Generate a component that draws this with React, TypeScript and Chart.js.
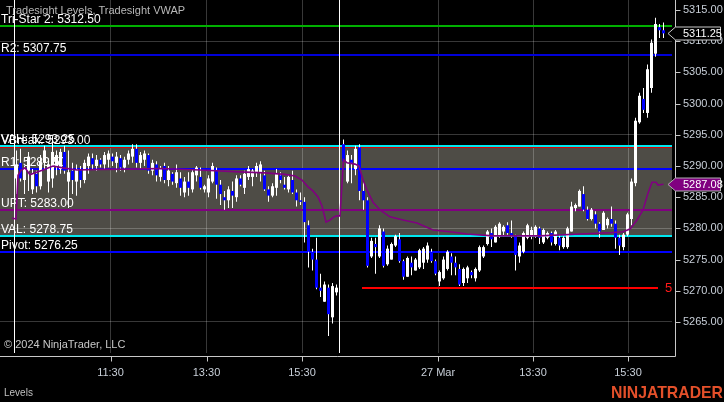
import React, { useEffect, useRef } from 'react';
import { Chart, registerables } from 'chart.js';
Chart.register(...registerables);

// ---- axes ----
const Y_MIN = 5260.03;
const Y_MAX = 5316.6;
const X_MIN = -3.5;
const X_MAX = 164.5;
const PRICE_TICKS = [5265, 5270, 5275, 5280, 5285, 5290, 5295, 5300, 5305, 5310, 5315];
const GRID_PRICES = [5265, 5280, 5295, 5310];
const TIME_TICK_SLOTS = [24.125, 48.125, 72, 106, 129.75, 153.5];
const TIME_TICK_LABELS = ['11:30', '13:30', '15:30', '27 Mar', '13:30', '15:30'];
const SESSION_BREAKS = [0, 81.25];
const SESSION1_START = 0.625;
const SESSION2_START = 82.375;

// ---- session 1 (26 Mar) 5-min bars ----
const S1_OPEN = [5288, 5290.5, 5287.75, 5289.25, 5286.25, 5288.75, 5286.75, 5290.5, 5287.5, 5288, 5290, 5289.5, 5292.25, 5287.5, 5289.25, 5287.5, 5289.5, 5287.75, 5290, 5291.25, 5290, 5291, 5290.25, 5291, 5291.5, 5290.5, 5291.25, 5289.75, 5291, 5291.5, 5292.75, 5290.5, 5291, 5291.75, 5289.25, 5290.25, 5288.25, 5290, 5287.75, 5288.75, 5287.25, 5288, 5285.75, 5287.5, 5286.25, 5288.5, 5288.25, 5286.25, 5285.75, 5287.5, 5289.25, 5287, 5285, 5284.5, 5286, 5285, 5288, 5286.5, 5288.25, 5288.25, 5289, 5289, 5288.5, 5286.25, 5285.25, 5286.5, 5288.5, 5287, 5286.25, 5287.75, 5285.75, 5284.5, 5284.25, 5280.5, 5276.25, 5275, 5270.5, 5268.25, 5270.5, 5265.75, 5269.75];
const S1_HIGH = [5292.5, 5292.75, 5290, 5292.25, 5289.5, 5289.25, 5291.75, 5293.25, 5291.25, 5294.75, 5292.5, 5292.75, 5293.25, 5292.5, 5290.5, 5290.25, 5290, 5291, 5292, 5292, 5291.75, 5291.25, 5292.25, 5292.5, 5292, 5292.25, 5291.75, 5291.5, 5292.5, 5293.5, 5293.5, 5292.25, 5292.5, 5292, 5291, 5290.75, 5290, 5290.5, 5290, 5289, 5290.25, 5289, 5288.25, 5289, 5289.5, 5290, 5289.75, 5287, 5288.5, 5290.5, 5289.75, 5287.75, 5286, 5286.75, 5287.5, 5288.5, 5288.5, 5289.25, 5290, 5289.5, 5290.5, 5290.75, 5289.25, 5286.75, 5287.25, 5289.5, 5289, 5288.25, 5288.5, 5289.25, 5286.25, 5285.75, 5285, 5281.25, 5276.75, 5278.5, 5272.75, 5271.5, 5271, 5271.25, 5271];
const S1_LOW = [5285.5, 5287.5, 5285.5, 5286, 5285.5, 5285.75, 5286.25, 5289.5, 5285.75, 5286.5, 5288.5, 5288.75, 5288.75, 5283.25, 5285.5, 5285.25, 5286.5, 5287.25, 5288.75, 5289.5, 5289.25, 5289.75, 5289.5, 5289.75, 5290, 5289, 5289.25, 5289, 5290.25, 5290.5, 5289.75, 5289.5, 5290, 5288.75, 5288.5, 5287.5, 5287.5, 5287.25, 5286.75, 5287, 5286.5, 5285.25, 5285, 5285.25, 5285.75, 5287.5, 5286.25, 5285.75, 5285, 5287.25, 5284.75, 5283.75, 5283, 5283.25, 5283.25, 5284.25, 5286.75, 5285.5, 5287.75, 5286.75, 5288.25, 5287.5, 5286, 5284.25, 5285, 5285.25, 5287.25, 5286.25, 5285.75, 5285.5, 5283.5, 5283.75, 5277.75, 5273.75, 5273.25, 5270.25, 5269, 5268.25, 5262.75, 5264.75, 5269.25];
const S1_CLOSE = [5290.25, 5288, 5289.5, 5291.5, 5288.75, 5286.75, 5290.75, 5292.5, 5290.25, 5292.25, 5291.75, 5292.25, 5289.25, 5289, 5287.75, 5289.5, 5287.75, 5290.5, 5291.5, 5290.25, 5291, 5290.25, 5291.75, 5292, 5290.75, 5291.5, 5289.75, 5291, 5292, 5292.75, 5290.5, 5291.75, 5292, 5289.25, 5290.5, 5288.5, 5289.5, 5287.75, 5289.25, 5287.5, 5289, 5286.5, 5287.5, 5286.5, 5289, 5289.75, 5286.5, 5286.75, 5288, 5290, 5287, 5285.5, 5284.5, 5286.25, 5285.25, 5288, 5287, 5288.75, 5289.5, 5289.25, 5290, 5290.25, 5286.25, 5285.25, 5286.75, 5288.75, 5287.75, 5286.5, 5288.25, 5285.75, 5284.5, 5284.25, 5281, 5276.25, 5275, 5270.5, 5270, 5271, 5266.25, 5270.75, 5270.5];

// ---- session 2 (27 Mar) 5-min bars ----
const S2_OPEN = [5293.5, 5287.5, 5291, 5289.5, 5293, 5286, 5284.5, 5275.5, 5277.5, 5275.5, 5279.5, 5274.25, 5275, 5277.25, 5278.25, 5274.75, 5272.25, 5274.5, 5273.25, 5273.75, 5274.5, 5275, 5276.25, 5274.75, 5271.5, 5272, 5273.5, 5275.5, 5274.5, 5273.5, 5271.25, 5272, 5273, 5272, 5273.25, 5275.5, 5277.5, 5279.25, 5277.75, 5278.75, 5279.5, 5280.5, 5279.25, 5278.75, 5275.5, 5276.25, 5278.5, 5278.75, 5278.75, 5280, 5277.75, 5278.5, 5279.25, 5277.5, 5278.5, 5277, 5277, 5279.5, 5283.25, 5283.5, 5285.5, 5283, 5281.5, 5282.25, 5280.75, 5279.75, 5280.5, 5281.5, 5280.75, 5278.5, 5277, 5279, 5281.5, 5287.25, 5297, 5300.75, 5298.5, 5302.5, 5308, 5312.25, 5311.75];
const S2_HIGH = [5294.25, 5292.5, 5291.75, 5293.25, 5293.5, 5287.5, 5285, 5278.5, 5278.5, 5280.5, 5280, 5277.25, 5277.75, 5279, 5279.25, 5275, 5275.5, 5275.5, 5275.25, 5276.75, 5277, 5277.75, 5276.75, 5275, 5273.25, 5275.5, 5276.5, 5276, 5275.5, 5274.25, 5273.75, 5274, 5273.25, 5273.75, 5277.25, 5277.25, 5279.75, 5280, 5280.5, 5281, 5280.5, 5281, 5281.25, 5279, 5277.75, 5279.5, 5280.75, 5280.25, 5280.5, 5280.25, 5280, 5279.5, 5279.5, 5279.75, 5279, 5278.75, 5280.25, 5284.25, 5284, 5286.25, 5286.75, 5283.5, 5283.25, 5282.75, 5281, 5282.75, 5281.75, 5283.5, 5281.25, 5279, 5279.25, 5282.5, 5288, 5297.75, 5301.75, 5302.5, 5306.25, 5310.25, 5313.75, 5312.75, 5313];
const S2_LOW = [5290.5, 5287.25, 5287.25, 5288.5, 5284.5, 5283, 5273.75, 5275.25, 5272.75, 5275.25, 5273.75, 5274, 5275, 5277, 5274.5, 5271.75, 5272.25, 5272.5, 5273.25, 5273.5, 5273.5, 5274.5, 5274.5, 5272.5, 5270.75, 5271.75, 5273.25, 5272.5, 5272.5, 5270.75, 5270.75, 5271.25, 5272, 5271.5, 5273, 5275.25, 5277.25, 5277, 5277.75, 5278.5, 5278.75, 5279, 5278.5, 5273.25, 5274.5, 5276, 5278.25, 5278.25, 5278.5, 5277.5, 5277.5, 5278.25, 5277.25, 5277.25, 5276.5, 5276.75, 5276.75, 5279.5, 5282.75, 5283.5, 5282.75, 5281.25, 5281.25, 5280, 5278.5, 5279.75, 5280, 5280.25, 5276.75, 5275.75, 5276.5, 5278.75, 5280.5, 5286.75, 5296.75, 5298.5, 5297.75, 5301.75, 5307.5, 5310.5, 5310.5];
const S2_CLOSE = [5290.75, 5291.75, 5290.5, 5292.75, 5286, 5284.5, 5274, 5278, 5277, 5280, 5274, 5276.75, 5277.5, 5278.75, 5274.75, 5272.25, 5275.25, 5273.75, 5275, 5276.5, 5276.75, 5277.25, 5274.75, 5272.75, 5273, 5275, 5276.25, 5274.5, 5273.75, 5271, 5273.5, 5273.75, 5272.5, 5273.5, 5277, 5277, 5279.5, 5278.25, 5280.25, 5280.75, 5280.25, 5279.25, 5278.75, 5275.75, 5277.25, 5279.25, 5280.5, 5279.75, 5280.25, 5278.5, 5279.75, 5279.25, 5277.75, 5279.5, 5277.25, 5278.5, 5280, 5283.5, 5283.75, 5286, 5283, 5281.5, 5283, 5280.75, 5279.5, 5282.5, 5281.5, 5280.75, 5278.5, 5277.25, 5279, 5282.25, 5287.5, 5297.25, 5301.25, 5299, 5305.5, 5309.75, 5312.75, 5311.75, 5311.25];

// ---- Tradesight VWAP (time slot, value) ----
const VWAP_SLOTS = [-0.5, 0.5, 1, 1.75, 2.75, 4, 5.25, 7.25, 9.75, 12.25, 15.75, 21.5, 29, 36.5, 46.5, 56.5, 62.75, 67.75, 70.25, 72, 73.5, 74.75, 76, 77, 78, 79, 80, 80.625, 81.5, 82.375, 83.25, 85.25, 86.25, 87.25, 88.25, 89.75, 91.5, 94, 97.25, 100.75, 104.75, 109, 113.25, 119.75, 131.5, 141.5, 149, 152.25, 154, 155.75, 157.25, 158.5, 159.5, 160.5, 161, 162.375];
const VWAP_VALUES = [5281.65, 5281.5, 5288.5, 5289.3, 5289.7, 5288.6, 5288.9, 5289.35, 5290, 5289.7, 5289.35, 5289.45, 5289.5, 5289.6, 5289.35, 5289.05, 5288.9, 5288.65, 5288.4, 5287.75, 5286.65, 5286, 5285.05, 5283.6, 5281, 5281.35, 5281.85, 5282, 5282, 5291, 5290.5, 5290.3, 5290, 5287.75, 5286.15, 5284.2, 5282.95, 5281.85, 5281.35, 5280.85, 5279.75, 5279.45, 5279.1, 5278.8, 5278.8, 5279.1, 5279.3, 5279.45, 5279.9, 5281.35, 5282.95, 5285.65, 5287.4, 5287.4, 5286.95, 5287.08];

// ---- Tradesight levels ----
const LEVEL_NAMES = ['Tri-Star 2', 'R2', 'VAH', 'VBreak', 'R1', 'UPT', 'VAL', 'Pivot'];
const LEVEL_VALUES = [5312.5, 5307.75, 5293.25, 5293.0, 5289.5, 5283.0, 5278.75, 5276.25];
const LEVEL_COLORS = ['#00b000', '#0000d8', '#00e8f0', '#dd0000', '#0000ff', '#800080', '#00e8f0', '#0000ff'];
const LEVEL_WIDTHS = [2, 2, 2, 1, 2, 2, 2, 2];
const VALUE_AREA = [5293.25, 5278.75];
const TARGET_VALUE = 5270.5;
const TARGET_SLOTS = [87, 161];

const GRID_COLOR = 'rgba(255,255,255,0.22)';
const AXIS_TEXT = '#c8cfd8';
const FONT = '"Liberation Sans", Arial, sans-serif';

export default function App() {
  const ref = useRef<HTMLCanvasElement>(null);

  useEffect(() => {
    document.body.style.margin = '0';
    document.body.style.background = '#000';
    const canvas = ref.current!;
    Chart.defaults.font.family = FONT;

    const wicks: any[] = [];
    const bodies: any[] = [];
    const bodyColors: string[] = [];
    const addSession = (start: number, o: number[], h: number[], l: number[], c: number[]) => {
      for (let i = 0; i < o.length; i++) {
        const x = start + i;
        wicks.push({ x, y: [l[i], h[i]] });
        bodies.push({ x, y: [Math.min(o[i], c[i]), Math.max(o[i], c[i])] });
        bodyColors.push(c[i] >= o[i] ? '#ffffff' : '#0000ff');
      }
    };
    addSession(SESSION1_START, S1_OPEN, S1_HIGH, S1_LOW, S1_CLOSE);
    addSession(SESSION2_START, S2_OPEN, S2_HIGH, S2_LOW, S2_CLOSE);

    const lastClose = S2_CLOSE[S2_CLOSE.length - 1];
    const lastVwap = VWAP_VALUES[VWAP_VALUES.length - 1];

    const hline = (ctx: any, py: number, x0: number, x1: number, w: number, color: string) => {
      const y = w % 2 === 1 ? Math.round(py - 0.5) + 0.5 : Math.round(py);
      ctx.strokeStyle = color;
      ctx.lineWidth = w;
      ctx.beginPath();
      ctx.moveTo(x0, y);
      ctx.lineTo(x1, y);
      ctx.stroke();
    };

    const decor = {
      id: 'decor',
      beforeDraw(chart: any) {
        const { ctx, chartArea: a, scales } = chart;
        const y = scales.y;
        const t = Math.round(y.getPixelForValue(VALUE_AREA[0]));
        const b = Math.round(y.getPixelForValue(VALUE_AREA[1]));
        ctx.save();
        ctx.fillStyle = '#4e4c46';
        ctx.fillRect(a.left, t, a.right - a.left, b - t);
        ctx.restore();
      },
      beforeDatasetsDraw(chart: any) {
        const { ctx, chartArea: a, scales } = chart;
        ctx.save();
        ctx.beginPath();
        ctx.rect(a.left, a.top, a.right - a.left, a.bottom - a.top);
        ctx.clip();
        // level lines
        LEVEL_VALUES.forEach((v, i) => {
          hline(ctx, scales.y.getPixelForValue(v), a.left, a.right, LEVEL_WIDTHS[i], LEVEL_COLORS[i]);
        });
        hline(ctx, scales.y.getPixelForValue(TARGET_VALUE), scales.x.getPixelForValue(TARGET_SLOTS[0]),
          scales.x.getPixelForValue(TARGET_SLOTS[1]), 2, '#ff0000');
        // level labels
        ctx.font = `12px ${FONT}`;
        ctx.fillStyle = '#ffffff';
        ctx.textBaseline = 'alphabetic';
        LEVEL_VALUES.forEach((v, i) => {
          const py = scales.y.getPixelForValue(v);
          ctx.fillText(`${LEVEL_NAMES[i]}: ${v.toFixed(2)}`, 1, py - 3);
        });
        // session breaks
        ctx.strokeStyle = '#ffffff';
        ctx.lineWidth = 1;
        SESSION_BREAKS.forEach((s) => {
          const px = Math.round(scales.x.getPixelForValue(s)) + 0.5;
          ctx.beginPath();
          ctx.moveTo(px, a.top);
          ctx.lineTo(px, a.bottom);
          ctx.stroke();
        });
        ctx.restore();
      },
      afterDraw(chart: any) {
        const { ctx, chartArea: a, scales } = chart;
        const xs = scales.x;
        const ys = scales.y;
        ctx.save();
        // target label, clipped by plot
        ctx.save();
        ctx.beginPath();
        ctx.rect(a.left, a.top, a.right - a.left, a.bottom - a.top);
        ctx.clip();
        ctx.fillStyle = '#ff1a1a';
        ctx.font = `13px ${FONT}`;
        ctx.textBaseline = 'middle';
        ctx.fillText(TARGET_VALUE.toFixed(2), xs.getPixelForValue(TARGET_SLOTS[1]) + 7, ys.getPixelForValue(TARGET_VALUE) + 1);
        ctx.restore();

        // axis lines
        const axX = a.right + 3.5;
        const axY = a.bottom + 3.5;
        ctx.strokeStyle = '#c8c8c8';
        ctx.lineWidth = 1;
        ctx.beginPath();
        ctx.moveTo(axX, 0);
        ctx.lineTo(axX, axY);
        ctx.lineTo(0, axY);
        ctx.stroke();
        // tick marks
        PRICE_TICKS.forEach((v) => {
          const py = Math.round(ys.getPixelForValue(v)) + 0.5;
          ctx.beginPath();
          ctx.moveTo(axX, py);
          ctx.lineTo(axX + 5, py);
          ctx.stroke();
        });
        TIME_TICK_SLOTS.forEach((s) => {
          const px = Math.round(xs.getPixelForValue(s)) + 0.5;
          ctx.beginPath();
          ctx.moveTo(px, axY);
          ctx.lineTo(px, axY + 5);
          ctx.stroke();
        });

        // price markers
        const marker = (val: number, fill: string, stroke: string) => {
          const py = Math.round(ys.getPixelForValue(val)) + 0.5;
          ctx.beginPath();
          ctx.moveTo(a.right - 4, py);
          ctx.lineTo(a.right + 3.5, py - 6.5);
          ctx.lineTo(720.5, py - 6.5);
          ctx.lineTo(720.5, py + 6.5);
          ctx.lineTo(a.right + 3.5, py + 6.5);
          ctx.closePath();
          ctx.fillStyle = fill;
          ctx.fill();
          ctx.strokeStyle = stroke;
          ctx.lineWidth = 1;
          ctx.stroke();
          ctx.fillStyle = '#ffffff';
          ctx.font = `11px ${FONT}`;
          ctx.textBaseline = 'middle';
          ctx.textAlign = 'left';
          ctx.fillText(val.toFixed(2), a.right + 11, py + 0.5);
        };
        marker(lastClose, '#000000', '#c8c8c8');
        marker(lastVwap, '#800080', '#b0b0b0');

        // texts
        ctx.textBaseline = 'alphabetic';
        ctx.textAlign = 'left';
        ctx.font = `11px ${FONT}`;
        ctx.fillStyle = '#b8b8b8';
        ctx.fillText('Tradesight Levels, Tradesight VWAP', 6, 14);
        ctx.fillStyle = '#c8c8c8';
        ctx.fillText('\u00a9 2024 NinjaTrader, LLC', 4, 348);
        ctx.font = `10px ${FONT}`;
        ctx.fillStyle = '#c0c0c0';
        ctx.fillText('Levels', 4, 396);
        ctx.font = `bold 17px ${FONT}`;
        ctx.fillStyle = '#e4502a';
        ctx.fillText('NINJATRADER', 611, 398, 112);
        ctx.restore();
      },
    };

    const chart = new Chart(canvas, {
      type: 'bar',
      data: {
        datasets: [
          {
            type: 'line',
            data: VWAP_SLOTS.map((s, i) => ({ x: s, y: VWAP_VALUES[i] })),
            borderColor: '#800080',
            borderWidth: 1.6,
            pointRadius: 0,
            tension: 0,
            order: 1,
          },
          {
            type: 'bar',
            data: bodies,
            backgroundColor: bodyColors,
            barThickness: 3,
            grouped: false,
            inflateAmount: 0,
            borderWidth: 0,
            order: 9,
          },
          {
            type: 'bar',
            data: wicks,
            backgroundColor: '#ffffff',
            barThickness: 1,
            grouped: false,
            inflateAmount: 0,
            borderWidth: 0,
            order: 10,
          },
        ] as any,
      },
      options: {
        responsive: false,
        devicePixelRatio: 1,
        animation: false,
        events: [],
        layout: { padding: 0 },
        plugins: { legend: { display: false }, tooltip: { enabled: false } },
        scales: {
          x: {
            type: 'linear',
            position: 'bottom',
            min: X_MIN,
            max: X_MAX,
            offset: false,
            afterBuildTicks: (s: any) => {
              s.ticks = TIME_TICK_SLOTS.map((v) => ({ value: v }));
            },
            afterFit: (s: any) => {
              s.height = 49;
              s.paddingLeft = 0;
              s.paddingRight = 0;
            },
            grid: { color: GRID_COLOR, drawTicks: false, offset: false },
            border: { display: false },
            ticks: {
              autoSkip: false,
              maxRotation: 0,
              minRotation: 0,
              padding: 13,
              color: AXIS_TEXT,
              font: { size: 11 },
              callback: (v: any) => {
                const i = TIME_TICK_SLOTS.indexOf(Number(v));
                return i >= 0 ? TIME_TICK_LABELS[i] : '';
              },
            },
          },
          y: {
            type: 'linear',
            position: 'right',
            min: Y_MIN,
            max: Y_MAX,
            afterBuildTicks: (s: any) => {
              s.ticks = PRICE_TICKS.map((v) => ({ value: v }));
            },
            afterFit: (s: any) => {
              s.width = 52;
              s.paddingTop = 0;
              s.paddingBottom = 0;
            },
            grid: {
              drawTicks: false,
              color: (c: any) => (c.tick && GRID_PRICES.includes(c.tick.value) ? GRID_COLOR : 'rgba(0,0,0,0)'),
            },
            border: { display: false },
            ticks: {
              padding: 11,
              color: AXIS_TEXT,
              font: { size: 11 },
              callback: (v: any) => Number(v).toFixed(2),
            },
          },
        },
      },
      plugins: [decor],
    });
    return () => chart.destroy();
  }, []);

  return (
    <div style={{ position: 'fixed', left: 0, top: 0, width: 724, height: 402, background: '#000' }}>
      <canvas ref={ref} width={724} height={402} style={{ display: 'block', width: 724, height: 402 }} />
    </div>
  );
}
